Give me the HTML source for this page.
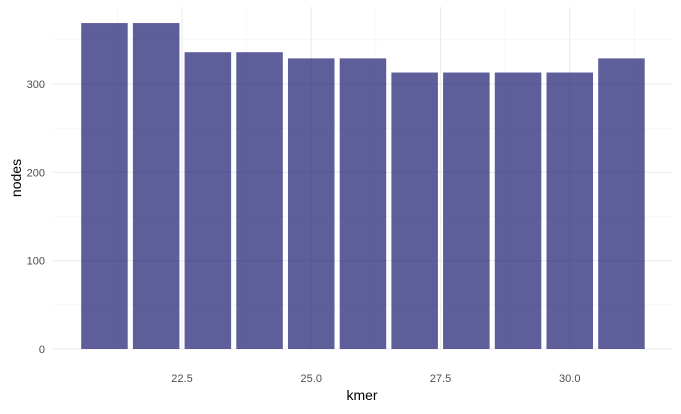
<!DOCTYPE html>
<html><head><meta charset="utf-8"><style>
body{margin:0;background:#fff;}
svg text{font-family:"Liberation Sans",sans-serif;}
</style></head><body>
<svg id="chart" width="681" height="409" xmlns="http://www.w3.org/2000/svg">
<g id="grid"></g><g id="bars"></g><g id="axes"></g>
<text x="362" y="400" font-size="14" text-anchor="middle" fill="#000">kmer</text>
<text transform="translate(21,178) rotate(-90)" font-size="14" text-anchor="middle" fill="#000">nodes</text>
</svg>
<script>
const kmers=[21,22,23,24,25,26,27,28,29,30,31];
const nodes=[369,369,336,336,329,329,313,313,313,313,329];
const xTicks=[22.5,25.0,27.5,30.0];
const xTickLabels=["22.5","25.0","27.5","30.0"];
const yTicks=[0,100,200,300];
const yTickLabels=["0","100","200","300"];
const ns="http://www.w3.org/2000/svg";
const L=53,R=672,T=7,B=349;
const U=51.7;
const x=v=>182+(v-22.5)*U;
const y=v=>349-v*(265/300);
function mk(t,a,p){const e=document.createElementNS(ns,t);for(const k in a)e.setAttribute(k,a[k]);p.appendChild(e);return e;}
const grid=document.getElementById('grid'),bars=document.getElementById('bars'),axes=document.getElementById('axes');
for(let i=0;i<yTicks.length;i++){
  const l=mk('line',{x1:L,x2:R,y1:y(yTicks[i]),y2:y(yTicks[i]),stroke:'#ebebeb','stroke-width':1.1},grid);
  
  if(i<yTicks.length-1){const m=mk('line',{x1:L,x2:R,y1:y((yTicks[i]+yTicks[i+1])/2),y2:y((yTicks[i]+yTicks[i+1])/2),stroke:'#f2f2f2','stroke-width':0.6},grid);
  }
  const t=mk('text',{x:45,y:y(yTicks[i])+4,'font-size':11,'text-anchor':'end',fill:'#4d4d4d'},axes);t.textContent=yTickLabels[i];
  
}
const m1=mk('line',{x1:L,x2:R,y1:y(350),y2:y(350),stroke:'#f2f2f2','stroke-width':0.6},grid);

for(let i=0;i<xTicks.length;i++){
  const l=mk('line',{x1:x(xTicks[i]),x2:x(xTicks[i]),y1:T,y2:B,stroke:'#ebebeb','stroke-width':1.1},grid);
  
  const t=mk('text',{x:x(xTicks[i]),y:382,'font-size':11,'text-anchor':'middle',fill:'#4d4d4d'},axes);t.textContent=xTickLabels[i];
  
}
for(let v=21.25;v<=31.5;v+=2.5){const m=mk('line',{x1:x(v),x2:x(v),y1:T,y2:B,stroke:'#f2f2f2','stroke-width':0.6},grid);
}
for(let i=0;i<kmers.length;i++){
  const r=mk('rect',{x:x(kmers[i]-0.45),width:U*0.9,y:y(nodes[i]),height:y(0)-y(nodes[i]),fill:'#191970','fill-opacity':0.7},bars);
  
}
</script>
</body></html>
